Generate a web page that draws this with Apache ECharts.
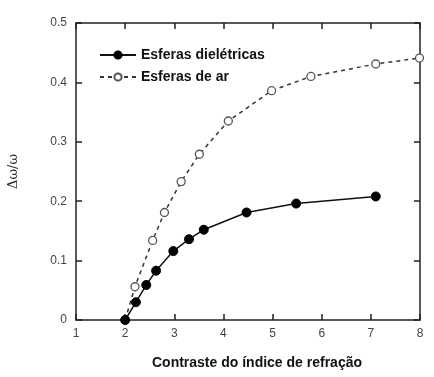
<!DOCTYPE html>
<html>
<head>
<meta charset="utf-8">
<script src="https://cdn.jsdelivr.net/npm/echarts@6/dist/echarts.min.js"></script>
<style>
  html, body { margin: 0; padding: 0; background: #fff; }
  #chart { width: 434px; height: 377px; }
</style>
</head>
<body>
<div id="chart"></div>
<script>
// valores
var dieletricasX = [2.0, 2.22, 2.43, 2.63, 2.98, 3.3, 3.6, 4.47, 5.48, 7.1];
var dieletricasY = [0, 0.030, 0.059, 0.083, 0.116, 0.136, 0.152, 0.181, 0.196, 0.208];
var arX = [2.0, 2.2, 2.56, 2.8, 3.14, 3.51, 4.1, 4.98, 5.78, 7.1, 7.99];
var arY = [0, 0.056, 0.134, 0.181, 0.233, 0.279, 0.335, 0.386, 0.410, 0.431, 0.441];
var nomes = ['Esferas dielétricas', 'Esferas de ar'];

function pares(xs, ys) {
  var out = [];
  for (var i = 0; i < xs.length; i++) {
    out.push([xs[i], ys[i]]);
  }
  return out;
}

var myChart = echarts.init(document.getElementById('chart'));

var eixoCor = '#222';
var labelCor = '#444';

var option = {
  animation: false,
  grid: { left: 76, right: 14, top: 23, bottom: 57, containLabel: false, outerBoundsMode: 'none' },
  legend: {
    left: 94,
    top: 43,
    orient: 'vertical',
    itemWidth: 36,
    itemHeight: 9,
    itemGap: 8,
    data: nomes,
    textStyle: {
      fontFamily: 'Liberation Sans, Arial',
      fontWeight: 'bold',
      fontSize: 14,
      color: '#111'
    }
  },
  xAxis: [{
    type: 'value',
    min: 1,
    max: 8,
    interval: 1,
    name: 'Contraste do índice de refração',
    nameLocation: 'middle',
    nameGap: 36,
    nameTextStyle: {
      fontFamily: 'Liberation Sans, Arial',
      fontWeight: 'bold',
      fontSize: 14,
      color: '#111',
      padding: [0, 0, 0, 18]
    },
    axisLine: { onZero: false, lineStyle: { color: eixoCor, width: 1.5 } },
    axisTick: { inside: true, length: 6, lineStyle: { color: eixoCor, width: 1.5 } },
    axisLabel: { color: labelCor, fontFamily: 'Liberation Sans, Arial', fontSize: 12, margin: 8 },
    splitLine: { show: false }
  }, {
    type: 'value',
    position: 'top',
    min: 1,
    max: 8,
    interval: 1,
    axisLine: { show: true, onZero: false, lineStyle: { color: eixoCor, width: 1.5 } },
    axisTick: { show: true, inside: true, length: 6, lineStyle: { color: eixoCor, width: 1.5 } },
    axisLabel: { show: false },
    splitLine: { show: false }
  }],
  yAxis: [{
    type: 'value',
    min: 0,
    max: 0.5,
    interval: 0.1,
    name: 'Δω/ω',
    nameLocation: 'middle',
    nameGap: 56,
    nameTextStyle: {
      fontFamily: 'DejaVu Serif, Liberation Serif, serif',
      fontSize: 13,
      color: '#222'
    },
    axisLine: { show: true, onZero: false, lineStyle: { color: eixoCor, width: 1.5 } },
    axisTick: { show: true, inside: true, length: 6, lineStyle: { color: eixoCor, width: 1.5 } },
    axisLabel: {
      color: labelCor,
      fontFamily: 'Liberation Sans, Arial',
      fontSize: 12,
      margin: 9,
      formatter: function (v) { return v === 0 ? '0' : v.toFixed(1); }
    },
    splitLine: { show: false }
  }, {
    type: 'value',
    position: 'right',
    min: 0,
    max: 0.5,
    interval: 0.1,
    axisLine: { show: true, onZero: false, lineStyle: { color: eixoCor, width: 1.5 } },
    axisTick: { show: true, inside: true, length: 6, lineStyle: { color: eixoCor, width: 1.5 } },
    axisLabel: { show: false },
    splitLine: { show: false }
  }],
  series: [{
    name: nomes[1],
    type: 'line',
    data: pares(arX, arY),
    symbol: 'circle',
    symbolSize: 8,
    itemStyle: { color: '#fff', borderColor: '#555', borderWidth: 1.3 },
    lineStyle: { color: '#333', width: 1.5, type: [4, 4] },
    z: 2
  }, {
    name: nomes[0],
    type: 'line',
    data: pares(dieletricasX, dieletricasY),
    symbol: 'circle',
    symbolSize: 9,
    itemStyle: { color: '#000', borderColor: '#000', borderWidth: 1 },
    lineStyle: { color: '#111', width: 1.5 },
    z: 3
  }]
};

myChart.setOption(option);
</script>
</body>
</html>
